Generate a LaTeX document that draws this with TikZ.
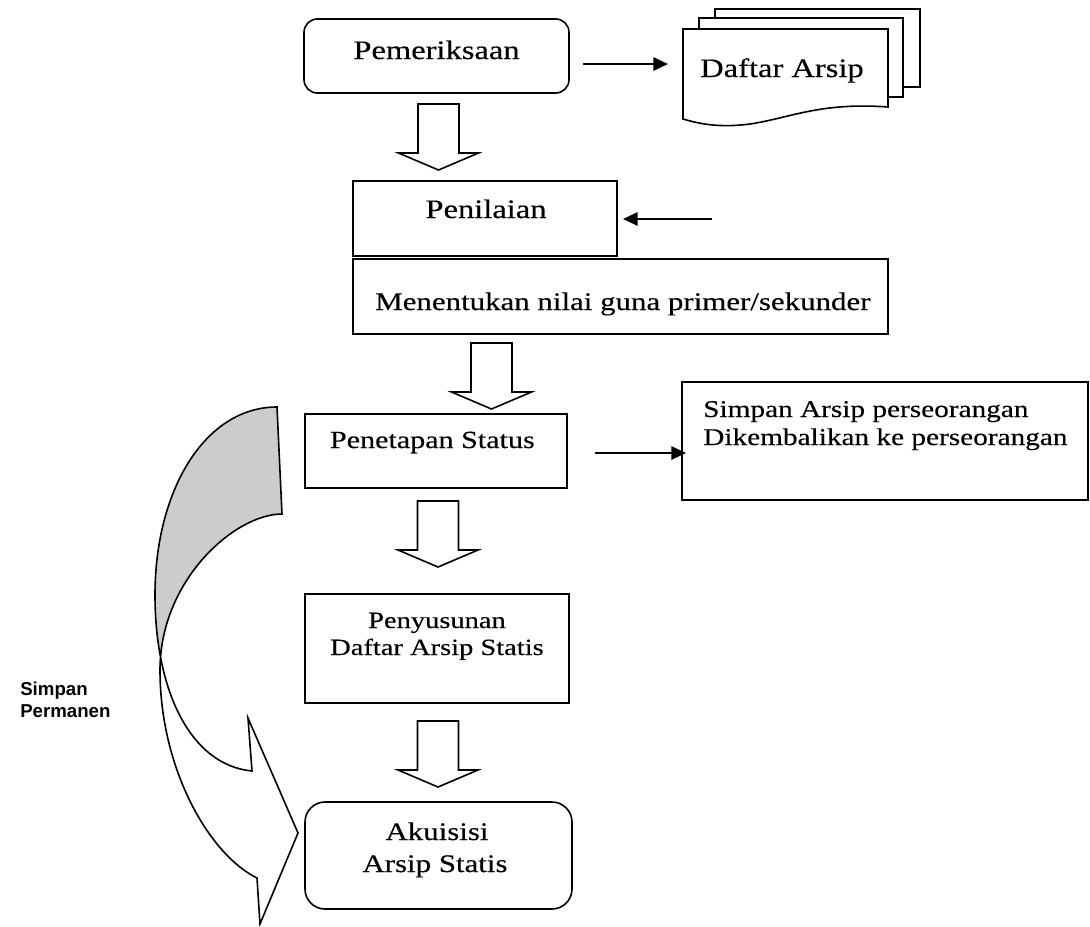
\documentclass[tikz,border=0pt]{standalone}
\usepackage{fontspec}
\setmainfont{Liberation Serif}[FakeStretch=1.22,FakeBold=0.3]
\newfontfamily\labelsans{Liberation Sans}
\usetikzlibrary{arrows.meta}
\begin{document}
\begin{tikzpicture}[x=0.75pt,y=-0.75pt,line join=miter,
  outl/.style={draw=black,line width=1.2pt,fill=white},
  txt/.style={inner sep=0pt,anchor=base,font=\fontsize{#1}{28}\selectfont},
  txt/.default=20,
  conn/.style={line width=1.5pt,-{Triangle[length=11pt,width=10pt]}},
  side/.style={inner sep=0pt,anchor=base west,font=\labelsans\bfseries\fontsize{14}{16}\selectfont},
  downarr/.pic={\draw[outl] (-20.5,0) -- (20.5,0) -- (20.5,49) -- (40,49) -- (0,66) -- (-40,49) -- (-20.5,49) -- cycle;}
  ]
\useasboundingbox (0,0) rectangle (1090,926);

% boxes
\draw[outl,rounded corners=10] (304,19) rectangle (569,93);
\draw[outl] (353,181) rectangle (617,256);
\draw[outl] (353,259) rectangle (888,334);
\draw[outl] (305,414) rectangle (567,488);
\draw[outl] (682,382) rectangle (1088,500);
\draw[outl] (305,594) rectangle (569,703);
\draw[outl,rounded corners=15] (305,802) rectangle (572,909);

% document stack
\draw[outl] (715,9) rectangle (920,87);
\draw[outl] (699,18) rectangle (903,97);
\draw[outl] (683,29) -- (888,29) -- (888,107) .. controls (820,102) and (790,118) .. (750,124) .. controls (720,128) and (700,124) .. (683,119) -- cycle;

% block arrows
\pic at (438.5,104) {downarr};
\pic at (491.5,343) {downarr};
\pic at (438,501) {downarr};
\pic at (438,721) {downarr};

% curved arrow
\def\curvpath{(277,407) .. controls (205,407) and (155,490) .. (155,595) .. controls (155,690) and (190,765) .. (252,771) -- (248,718) -- (298,833) -- (260,924) -- (257,878) .. controls (210,855) and (160,770) .. (160,670) .. controls (160,580) and (235,514) .. (282,514) -- cycle}
\fill[white] \curvpath;
\begin{scope}
\clip (0,0) rectangle (400,658);
\fill[black!20] \curvpath;
\end{scope}
\draw[line width=1.2pt] \curvpath;

% texts
\node[txt=20] (tpem) at (436.5,59) {Pemeriksaan};
\node[txt=20] (tdaf) at (782,77) {Daftar Arsip};
\node[txt=20] (tpen) at (486,218) {Penilaian};
\node[txt=19,anchor=base west] (tmen) at (375,310) {Menentukan nilai guna primer/sekunder};
\node[txt=18.5,anchor=base east] (tpst) at (535,448) {Penetapan Status};
\node[txt=18,anchor=base west] (tsim1) at (703,417) {Simpan Arsip perseorangan};
\node[txt=18,anchor=base west] (tsim2) at (703,445) {Dikembalikan ke perseorangan};
\node[txt=17.5] (tpny1) at (437,628) {Penyusunan};
\node[txt=17.5] (tpny2) at (437,655) {Daftar Arsip Statis};
\node[txt=19] (takw1) at (437,840) {Akuisisi};
\node[txt=19] (takw2) at (435,872) {Arsip Statis};
\node[side] (sp1) at (20,695) {Simpan};
\node[side] (sp2) at (20,717) {Permanen};

% line arrows
\coordinate (a1s) at (583,64);
\coordinate (a1e) at (668,64);
\coordinate (a2s) at (712,219);
\coordinate (a2e) at (623,219);
\coordinate (a3s) at (595,453);
\coordinate (a3e) at (686,453);
\draw[conn] (a1s) -- (a1e);
\draw[conn] (a2s) -- (a2e);
\draw[conn] (a3s) -- (a3e);
\end{tikzpicture}
\end{document}
